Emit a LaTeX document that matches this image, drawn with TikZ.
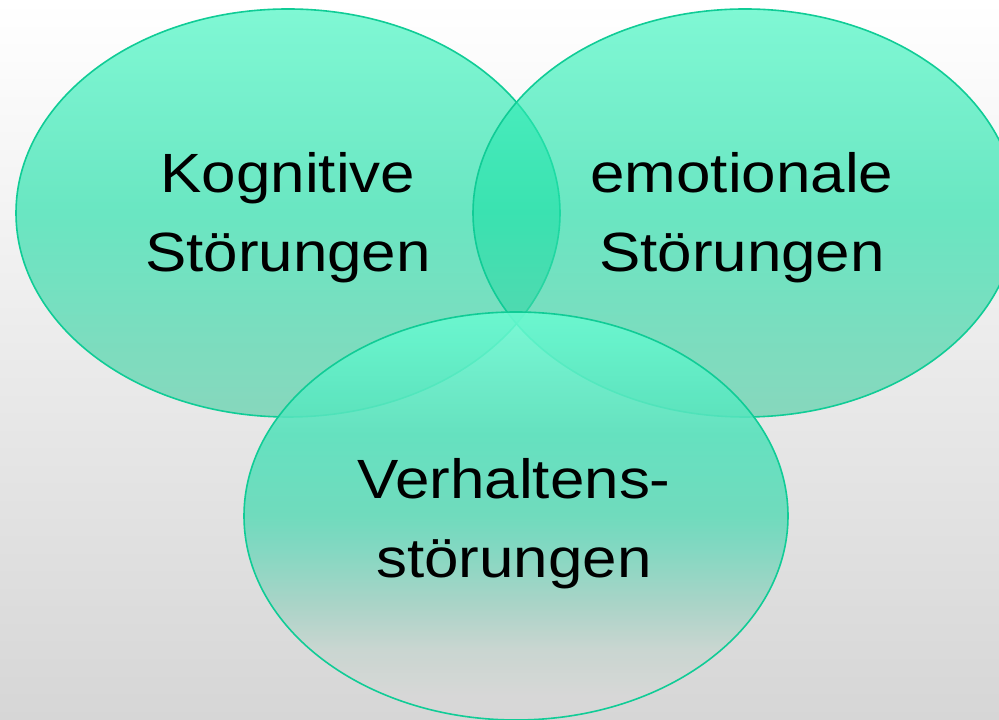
\documentclass[tikz,border=0pt]{standalone}
\usepackage{fontspec}
\setmainfont{Liberation Sans}[FakeStretch=1.12]
\usetikzlibrary{shapes.geometric}
\definecolor{vtop}{RGB}{60,245,190}
\definecolor{vmid}{RGB}{33,224,168}
\definecolor{vbot}{RGB}{84,207,167}
\definecolor{wa}{RGB}{106,251,210}
\definecolor{wb}{RGB}{84,225,186}
\definecolor{wc}{RGB}{97,219,185}
\definecolor{wg}{RGB}{120,215,190}
\definecolor{wd}{RGB}{160,211,196}
\definecolor{we}{RGB}{200,214,208}
\definecolor{wf}{RGB}{215,215,215}
\definecolor{vline}{RGB}{16,204,150}
\definecolor{bgbot}{RGB}{214,214,214}
% TikZ maps the path's bounding box onto 25bp..75bp of the shading
\pgfdeclareverticalshading{vennfill}{100bp}{color(0bp)=(vbot); color(25bp)=(vbot); color(50bp)=(vmid); color(75bp)=(vtop); color(100bp)=(vtop)}
\pgfdeclareverticalshading{vennfillb}{100bp}{color(0bp)=(wf); color(28bp)=(wf); color(33.6bp)=(we); color(39.7bp)=(wd); color(45.8bp)=(wg); color(50bp)=(wc); color(60bp)=(wb); color(75bp)=(wa); color(100bp)=(wa)}
\tikzset{
  vennarea/.style={shading=vennfill, fill opacity=0.65},
  vennareab/.style={shading=vennfillb, fill opacity=0.88},
  vennedge/.style={draw=vline, line width=1.6bp},
  vtext/.style={font=\fontsize{55.5}{80}\selectfont, align=center, text=black, inner sep=0pt}
}
\begin{document}
\begin{tikzpicture}[x=1bp,y=1bp]
\clip (0,0) rectangle (999,720);
\shade[top color=white, bottom color=bgbot] (0,0) rectangle (999,720);
% ellipse 1
\shade[vennarea] (288,507) ellipse [x radius=272, y radius=204];
\draw[vennedge] (288,507) ellipse [x radius=272, y radius=204];
% ellipse 2
\shade[vennarea] (745,507) ellipse [x radius=272, y radius=204];
\draw[vennedge] (745,507) ellipse [x radius=272, y radius=204];
% ellipse 3
\shade[vennareab] (516,204) ellipse [x radius=272, y radius=204];
\draw[vennedge] (516,204) ellipse [x radius=272, y radius=204];
% texts
\node[vtext, anchor=base] (kog) at (288,448) {Kognitive\\Störungen};
\node[vtext, anchor=base] (emo) at (742,448) {emotionale\\Störungen};
\node[vtext, anchor=base] (ver) at (514,142) {Verhaltens-\\störungen};
\end{tikzpicture}
\end{document}
